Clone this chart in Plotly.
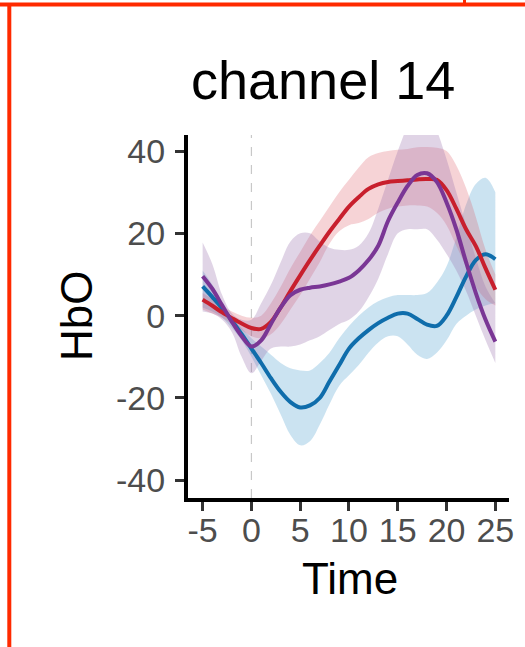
import plotly.graph_objects as go

# ---------------- data ----------------
time = [-5, -4, -3, -2, -1, 0, 1, 2, 3, 4, 5, 6, 7, 8, 9, 10, 11, 12, 13, 14,
        15, 16, 17, 18, 19, 20, 21, 22, 23, 24, 25]

blue_mean = [7.1, 4.5, 1.8, -1.2, -4.5, -8, -11.5, -15.2, -18.5, -21, -22.3, -21.8, -20, -16, -12, -8,
             -5.5, -3.5, -1.8, -0.5, 0.5, 0.5, -0.8, -2.2, -2.5, 0, 4.5, 9.5, 13.5, 14.9, 13.7]
blue_upper = [11, 7.5, 3, -0.5, -3, -5.5, -7.5, -9.5, -11.5, -12.8, -13.3, -13.3, -11.5, -9, -5.5, -2.5,
              0, 2, 3.5, 4.5, 5, 5, 5, 5.5, 8, 12, 19, 27, 32, 33.5, 30]
blue_lower = [2, 1, -0.5, -3, -6, -10, -14.5, -19, -24, -29, -31.5, -30.5, -26.5, -21.5, -17, -14.5,
              -12, -9, -6.5, -5, -5, -7, -9.5, -10.5, -9, -6, -2, 0, 1.5, 2.5, 3]

red_mean = [3.9, 2.4, 0.8, -0.6, -1.9, -3.0, -3.2, -1.5, 2, 6, 9.8, 13.5, 17, 20.4, 23.5, 26.5,
            28.8, 30.8, 31.9, 32.5, 32.7, 32.9, 33.1, 33.2, 33, 30.5, 26, 21, 16.9, 11.5, 6.3]
red_upper = [5.5, 4, 2.5, 1, 0, -0.5, 0, 3, 7, 11.5, 15.5, 19.5, 23, 26.5, 30, 33,
             36, 38.5, 39.5, 40, 40.3, 40.5, 40.9, 41, 40.8, 40, 36.5, 31, 24, 16, 10]
red_lower = [1.5, 0.5, -0.5, -2, -3.5, -5, -5.5, -4.5, -2, 1.5, 5, 9, 13, 17.5, 20.5, 22,
             22.5, 23.5, 25, 26, 26.5, 26.8, 26.8, 26.5, 25, 22, 17, 12, 7, 4, 2.5]

purple_mean = [9.6, 6.5, 2.5, -1.5, -5, -7.5, -6, -2, 2, 5, 6.3, 6.8, 7.1, 7.6, 8.3, 9.2,
               11, 13.5, 17, 23, 27.5, 31.5, 34.2, 34.6, 32.5, 27.5, 21, 13, 5.5, -1, -6.3]
purple_upper = [17.8, 12.5, 5, 0.5, -1, -1, 3, 7.5, 13, 18, 20, 20, 18, 16.5, 16, 16,
                17, 20, 26, 33, 40, 46, 50, 50, 45, 38, 30, 22, 14, 7, 3]
purple_lower = [1, 0.5, -1, -4, -10, -14, -11, -8, -7.5, -7.5, -7, -6, -5, -3.5, -2, -1,
                1, 4.5, 9, 15, 20, 21, 21, 21, 18.5, 15, 11, 6, 0, -6, -11.5]

x_ticks = [-5, 0, 5, 10, 15, 20, 25]
y_ticks = [-40, -20, 0, 20, 40]
title_text = "channel 14"
x_title = "Time"
y_title = "HbO"

# ---------------- styling ----------------
W, H = 525, 647
L, R, T, B = 188, 16, 135, 149
PW, PH = W - L - R, H - T - B
FONT = "Liberation Sans, Arial, Helvetica, sans-serif"


def px_x(p):
    return (p - L) / PW


def px_y(p):
    return (H - B - p) / PH


series = [
    (blue_mean, blue_upper, blue_lower, "#0f6dab", "rgba(107,174,214,0.35)"),
    (red_mean, red_upper, red_lower, "#c81f2d", "rgba(220,80,90,0.25)"),
    (purple_mean, purple_upper, purple_lower, "#7a3695", "rgba(153,112,171,0.30)"),
]

fig = go.Figure()

for mean, up, lo, lc, fc in series:
    fig.add_trace(go.Scatter(x=time, y=lo, mode="lines", line=dict(width=0, shape="spline", smoothing=1.0),
                             showlegend=False, hoverinfo="skip"))
    fig.add_trace(go.Scatter(x=time, y=up, mode="lines", line=dict(width=0, shape="spline", smoothing=1.0),
                             fill="tonexty", fillcolor=fc, showlegend=False, hoverinfo="skip"))

for mean, up, lo, lc, fc in series:
    fig.add_trace(go.Scatter(x=time, y=mean, mode="lines",
                             line=dict(width=4, color=lc, shape="spline", smoothing=1.0),
                             showlegend=False))

shapes = [
    # dashed reference line at time 0
    dict(type="line", xref="x", yref="paper", x0=0, x1=0, y0=0, y1=1,
         line=dict(color="#c8c8c8", width=1.2, dash="dash"), layer="below"),
    # red frame fragments
    dict(type="line", xref="paper", yref="paper", x0=px_x(0), x1=px_x(W), y0=px_y(4.5), y1=px_y(4.5),
         line=dict(color="#ff2a00", width=4)),
    dict(type="line", xref="paper", yref="paper", x0=px_x(9.3), x1=px_x(9.3), y0=px_y(3), y1=px_y(H),
         line=dict(color="#ff2a00", width=4)),
    dict(type="line", xref="paper", yref="paper", x0=px_x(464.5), x1=px_x(464.5), y0=px_y(0), y1=px_y(5),
         line=dict(color="#ff2a00", width=3)),
]

annotations = [
    dict(text=title_text, xref="paper", yref="paper", x=px_x(322.5), y=px_y(80),
         xanchor="center", yanchor="middle", showarrow=False,
         font=dict(family=FONT, size=54, color="black")),
    dict(text=x_title, xref="paper", yref="paper", x=px_x(350), y=px_y(578),
         xanchor="center", yanchor="middle", showarrow=False,
         font=dict(family=FONT, size=44, color="black")),
    dict(text=y_title, xref="paper", yref="paper", x=px_x(76.5), y=px_y(316.5),
         xanchor="center", yanchor="middle", showarrow=False, textangle=-90,
         font=dict(family=FONT, size=44, color="black")),
]

fig.update_layout(
    width=W, height=H,
    margin=dict(l=L, r=R, t=T, b=B),
    paper_bgcolor="white", plot_bgcolor="white",
    shapes=shapes, annotations=annotations,
    showlegend=False,
    xaxis=dict(range=[-6.5, 26.4], tickmode="array", tickvals=x_ticks,
               ticktext=[str(v) for v in x_ticks],
               showgrid=False, zeroline=False, showline=True, linecolor="black", linewidth=4,
               ticks="outside", ticklen=9, tickwidth=3, tickcolor="#333333",
               ticklabelstandoff=-10,
               tickfont=dict(family=FONT, size=34, color="#4d4d4d")),
    yaxis=dict(range=[-44.3, 43.9], tickmode="array", tickvals=y_ticks,
               ticktext=[str(v) for v in y_ticks],
               showgrid=False, zeroline=False, showline=True, linecolor="black", linewidth=4,
               ticks="outside", ticklen=9, tickwidth=3, tickcolor="#333333",
               ticklabelstandoff=3,
               tickfont=dict(family=FONT, size=34, color="#4d4d4d")),
)

fig.write_html("out.html")
